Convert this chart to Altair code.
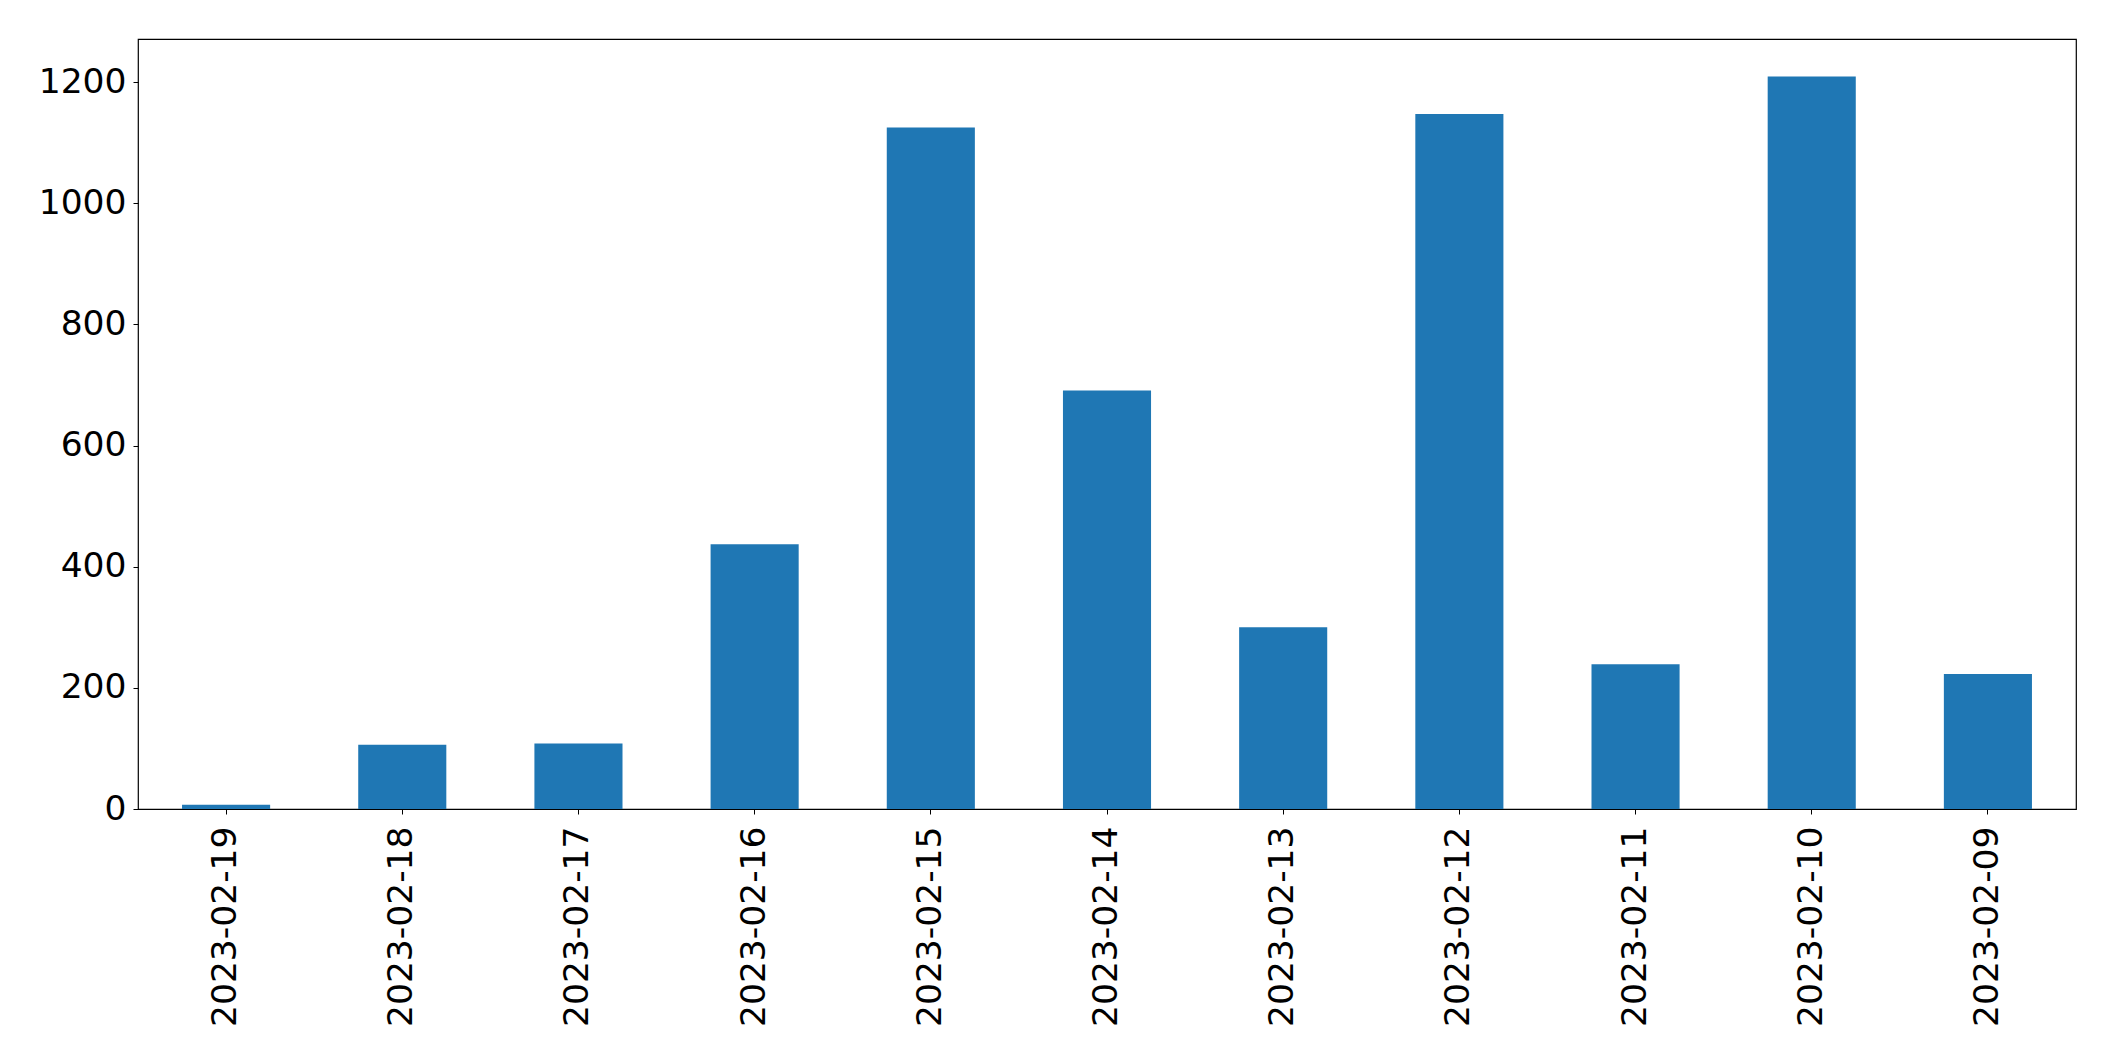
import altair as alt
import pandas as pd

dates = ["2023-02-19", "2023-02-18", "2023-02-17", "2023-02-16", "2023-02-15",
         "2023-02-14", "2023-02-13", "2023-02-12", "2023-02-11", "2023-02-10",
         "2023-02-09"]
counts = [7, 106, 108, 437, 1125, 691, 300, 1147, 239, 1209, 223]
y_ticks = [0, 200, 400, 600, 800, 1000, 1200]

df = pd.DataFrame({"date": dates, "count": counts})

FONT = "DejaVu Sans"
FS = 34.5

chart = alt.Chart(df).mark_bar(color="#1f77b4").encode(
    x=alt.X("date:N", sort=dates,
            scale=alt.Scale(paddingInner=0.5, paddingOuter=0.25),
            axis=alt.Axis(title=None, labelAngle=-90, labelFontSize=FS,
                          labelFont=FONT, labelColor="black", labelPadding=12,
                          labelLimit=400,
                          tickSize=5, tickColor="black", domain=False,
                          labelAlign="right", labelBaseline="middle")),
    y=alt.Y("count:Q", scale=alt.Scale(domain=[0, 1271], nice=False),
            axis=alt.Axis(title=None, values=y_ticks, format="d",
                          labelFontSize=FS,
                          labelFont=FONT, labelColor="black", labelPadding=7,
                          tickSize=5, tickColor="black", grid=False,
                          domain=False)),
).properties(
    width=1938,
    height=770,
    autosize=alt.AutoSizeParams(type="none"),
    padding={"left": 130, "top": 31, "right": 30, "bottom": 220},
    background="white",
).configure_view(
    stroke="black",
    strokeWidth=1.2,
)

chart.save("out.html", embed_options={"renderer": "svg", "actions": False})
